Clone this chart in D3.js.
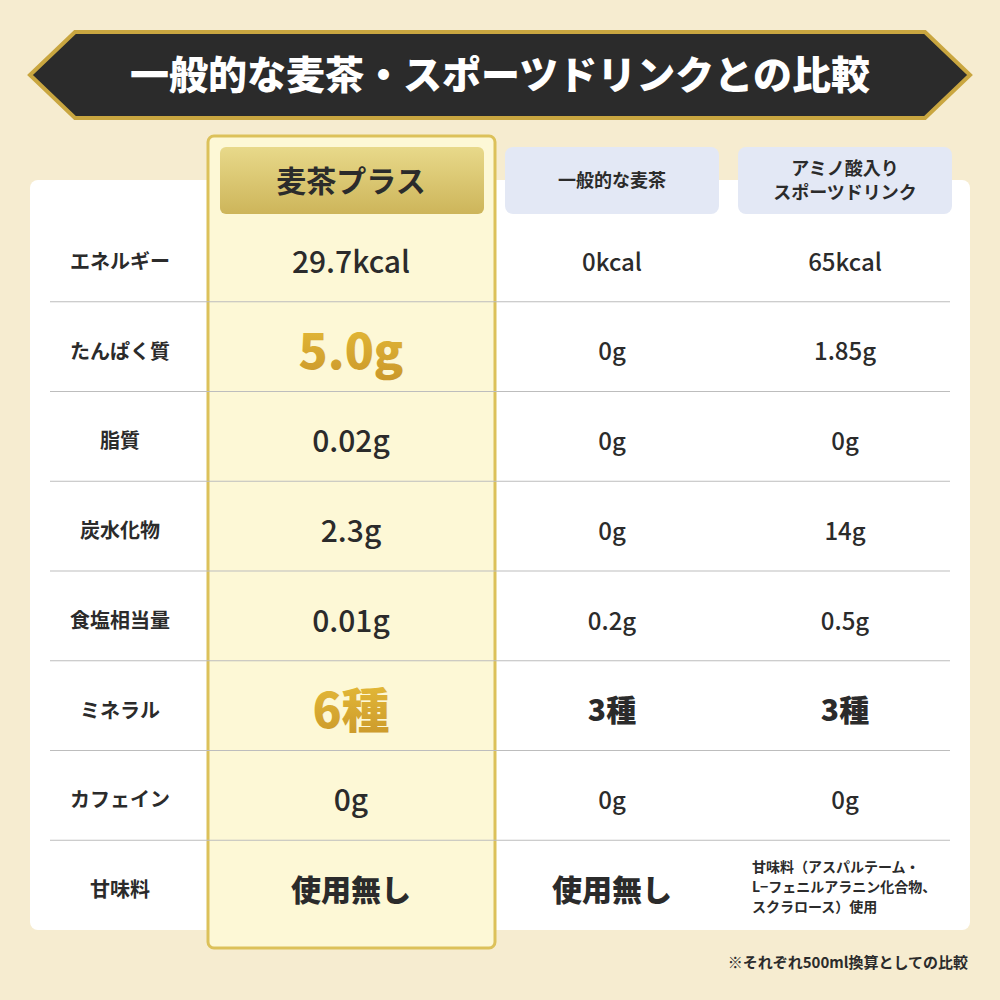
<!DOCTYPE html>
<html lang="ja">
<head>
<meta charset="UTF-8">
<script src="https://cdnjs.cloudflare.com/ajax/libs/d3/7.8.5/d3.min.js"></script>
<style>
  body { margin: 0; background: #f6ecd0; }
  text { font-family: "Noto Sans CJK JP", "Noto Sans", sans-serif; }
</style>
</head>
<body>
<svg id="chart" width="1000" height="1000"></svg>
<script>
const title = "一般的な麦茶・スポーツドリンクとの比較";
const columns = ["麦茶プラス", "一般的な麦茶", "アミノ酸入り\nスポーツドリンク"];
const rowLabels = ["エネルギー", "たんぱく質", "脂質", "炭水化物", "食塩相当量", "ミネラル", "カフェイン", "甘味料"];
const plusValues = ["29.7kcal", "5.0g", "0.02g", "2.3g", "0.01g", "6種", "0g", "使用無し"];
const teaValues = ["0kcal", "0g", "0g", "0g", "0.2g", "3種", "0g", "使用無し"];
const sportsValues = ["65kcal", "1.85g", "0g", "14g", "0.5g", "3種", "0g",
  "甘味料（アスパルテーム・\nL−フェニルアラニン化合物、\nスクラロース）使用"];
const highlight = ["5.0g", "6種"];
const footnote = "※それぞれ500ml換算としての比較";

const svg = d3.select("#chart");
const defs = svg.append("defs");
const gold = defs.append("linearGradient").attr("id", "gold").attr("x1", 0).attr("y1", 0).attr("x2", 0).attr("y2", 1);
gold.append("stop").attr("offset", "0%").attr("stop-color", "#e8bf3a");
gold.append("stop").attr("offset", "100%").attr("stop-color", "#c9962a");
const goldBox = defs.append("linearGradient").attr("id", "goldbox").attr("x1", 0).attr("y1", 0).attr("x2", 0).attr("y2", 1);
goldBox.append("stop").attr("offset", "0%").attr("stop-color", "#e8d98a");
goldBox.append("stop").attr("offset", "100%").attr("stop-color", "#cdb55a");

// title banner
const bx0 = 30, bx1 = 970, by0 = 32, by1 = 118, bm = (by0 + by1) / 2;
const banner = [[bx0, bm], [bx0 + 45, by0], [bx1 - 45, by0], [bx1, bm], [bx1 - 45, by1], [bx0 + 45, by1]];
svg.append("polygon").attr("points", banner.join(" ")).attr("fill", "#2b2b2b")
  .attr("stroke", "#c9a640").attr("stroke-width", 4);
svg.append("text").attr("x", 500).attr("y", bm + 14).attr("text-anchor", "middle")
  .attr("font-size", 39).attr("font-weight", 900).attr("fill", "#fff").text(title);

// white card
svg.append("rect").attr("x", 30).attr("y", 180).attr("width", 940).attr("height", 750)
  .attr("rx", 8).attr("fill", "#fff");

const y = d3.scaleBand().domain(rowLabels).range([212, 930]);
const colX = [351, 612, 845];
const labelX = 120;

// highlight column
svg.append("rect").attr("x", 208).attr("y", 136).attr("width", 287).attr("height", 812)
  .attr("rx", 6).attr("fill", "#fdf8d6").attr("stroke", "#dcc15a").attr("stroke-width", 3);

// headers
svg.append("rect").attr("x", 220).attr("y", 147).attr("width", 264).attr("height", 67)
  .attr("rx", 6).attr("fill", "url(#goldbox)");
[505, 738].forEach(x => {
  svg.append("rect").attr("x", x).attr("y", 147).attr("width", 214).attr("height", 67)
    .attr("rx", 8).attr("fill", "#e3e8f5");
});
columns.forEach((c, i) => {
  const lines = c.split("\n");
  const fs = i === 0 ? 30 : 18;
  const t = svg.append("text").attr("text-anchor", "middle").attr("font-weight", 700)
    .attr("font-size", fs).attr("fill", "#2b2b2b");
  lines.forEach((l, j) => {
    t.append("tspan").attr("x", colX[i])
      .attr("y", 181 + fs * 0.36 + (j - (lines.length - 1) / 2) * 24).text(l);
  });
});

// row dividers
svg.selectAll("line.div").data(rowLabels.slice(1)).join("line")
  .attr("x1", 50).attr("x2", 950).attr("y1", d => y(d)).attr("y2", d => y(d))
  .attr("stroke", "#bdbdbd").attr("stroke-width", 1);

// labels
svg.selectAll("text.lab").data(rowLabels).join("text")
  .attr("x", labelX).attr("y", d => y(d) + y.bandwidth() / 2 + 12)
  .attr("text-anchor", "middle").attr("font-size", 20).attr("font-weight", 700)
  .attr("fill", "#2b2b2b").text(d => d);

function cell(vals, ci) {
  vals.forEach((v, i) => {
    const cy = y(rowLabels[i]) + y.bandwidth() / 2 + 5;
    const lines = v.split("\n");
    if (lines.length > 1) {
      const t = svg.append("text").attr("font-size", 14).attr("font-weight", 700).attr("fill", "#2b2b2b");
      lines.forEach((l, j) => t.append("tspan").attr("x", 752).attr("y", cy + 2 + (j - 1) * 20).text(l));
      return;
    }
    const hl = highlight.includes(v) && ci === 0;
    const heavy = hl || v.endsWith("種") || v === "使用無し";
    const big = ci === 0 ? (hl ? 48 : 30) : (heavy ? 30 : 24);
    svg.append("text").attr("x", colX[ci]).attr("y", cy + big * 0.36)
      .attr("text-anchor", "middle").attr("font-size", big)
      .attr("font-weight", heavy ? 900 : 500)
      .attr("fill", hl ? "url(#gold)" : "#2b2b2b").text(v);
  });
}
cell(plusValues, 0);
cell(teaValues, 1);
cell(sportsValues, 2);

svg.append("text").attr("x", 968).attr("y", 968).attr("text-anchor", "end")
  .attr("font-size", 15).attr("font-weight", 700).attr("fill", "#2b2b2b").text(footnote);
</script>
</body>
</html>
